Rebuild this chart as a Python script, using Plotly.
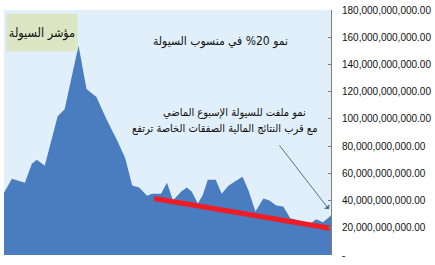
import plotly.graph_objects as go

# x positions (time index, arbitrary units) and liquidity values (SAR)
days = [4, 12, 25, 32, 37, 45, 58, 65, 79, 87, 97, 107, 118, 126, 133, 140, 148, 153,
        162, 168, 174, 182, 188, 193, 199, 204, 209, 217, 223, 230, 244, 250, 257, 265,
        271, 278, 285, 292, 313, 318, 325, 333]
liquidity_bn = [45.8, 56, 53, 67, 70, 65.5, 102, 107, 154, 122, 116, 100, 84, 71, 51,
                49.5, 43.6, 45, 45, 53, 40, 46.5, 49.5, 46.5, 37.8, 44, 55.3, 55.3, 45,
                51, 57.5, 47.3, 32, 41.5, 40, 36.4, 35.6, 27, 23.3, 26.2, 24, 29]
liquidity = [v * 1e9 for v in liquidity_bn]

trend_days = [155, 332]
trend_bn = [41.5, 19.6]
trend = [v * 1e9 for v in trend_bn]

tick_vals = [i * 20e9 for i in range(10)]
tick_text = ["-"] + ["{:,.2f}".format(v) for v in tick_vals[1:]]

title_box = "مؤشر السيولة"
note1 = "نمو 20% في منسوب السيولة"
note2a = "نمو ملفت للسيولة الإسبوع الماضي"
note2b = "مع قرب النتائج المالية الصفقات الخاصة ترتفع"

def v(py):
    return (255 - py) * 180e9 / 247

fig = go.Figure()
fig.add_trace(go.Scatter(x=days, y=liquidity, mode="lines", fill="tozeroy",
                         line=dict(color="#4a7cc0", width=0), fillcolor="#4a7cc0",
                         hoverinfo="skip"))
fig.add_trace(go.Scatter(x=trend_days, y=trend, mode="lines",
                         line=dict(color="#f01c24", width=5), hoverinfo="skip"))

def arfont(size):
    return dict(family="DejaVu Sans Condensed, DejaVu Sans, sans-serif", size=size,
                color="#111111")

def note(x, py, text, size=12, **kw):
    fig.add_annotation(x=x, y=v(py), xref="x", yref="y", text=text, showarrow=False,
                       xanchor="center", yanchor="middle", font=arfont(size), **kw)

note(42, 30.5, title_box, 12.5, bgcolor="#dde6c4", width=68, height=35)
note(222, 40, note1, 12)
note(236, 111, note2a, 11)
note(226, 127, note2b, 11)
fig.add_annotation(x=331, y=v(209), ax=280, ay=v(143), xref="x", yref="y",
                   axref="x", ayref="y", text="", showarrow=True, arrowhead=1,
                   arrowsize=1.2, arrowwidth=1, arrowcolor="#56708c")

fig.update_layout(
    width=435, height=265,
    margin=dict(l=4, r=102, t=8, b=10),
    paper_bgcolor="#ffffff", plot_bgcolor="#e0effa",
    showlegend=False,
    xaxis=dict(range=[4, 333], visible=False, fixedrange=True),
    yaxis=dict(range=[0, 180e9], side="right", tickvals=tick_vals, ticktext=tick_text,
               showgrid=False, zeroline=False, showline=True, linecolor="#7f7f7f",
               linewidth=1, ticks="inside", ticklen=3, tickcolor="#7f7f7f",
               ticklabelstandoff=8,
               tickfont=dict(family="Liberation Sans Narrow, Arial Narrow, Liberation Sans, sans-serif",
                             size=10, color="#111111")),
)

fig.write_html("out.html")
